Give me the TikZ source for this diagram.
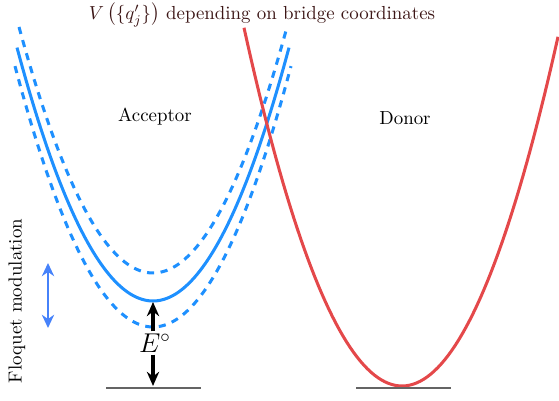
\documentclass[tikz,border=0pt]{standalone}
\usepackage{amsmath}
\usepackage{tikz}
\usetikzlibrary{arrows.meta,positioning}
\definecolor{accblue}{RGB}{30,144,255}
\definecolor{floqblue}{RGB}{70,130,250}
\definecolor{donred}{RGB}{228,72,74}
\definecolor{basegray}{RGB}{100,100,100}
\definecolor{titlebrown}{RGB}{60,22,22}
\tikzset{
  acccurve/.style={draw=accblue, line width=1.6pt},
  accdash/.style={draw=accblue, line width=1.6pt, dash pattern=on 3.8pt off 3.4pt},
  doncurve/.style={draw=donred, line width=1.6pt},
  baseline/.style={draw=basegray, line width=1.1pt},
  earrow/.style={line width=2pt, -{Stealth[length=7.5pt,width=6.5pt]}},
  farrow/.style={draw=floqblue, line width=1.4pt, {Stealth[length=7pt,width=6.5pt]}-{Stealth[length=7pt,width=6.5pt]}},
  lbl/.style={font=\normalsize, inner sep=1pt},
}
\begin{document}
\begin{tikzpicture}[x=0.0186cm, y=-0.0186cm]
\useasboundingbox (0,0) rectangle (559,401);
% title
\node[lbl, text=titlebrown] (title) at (262,15) {$V\left(\{q'_j\}\right)$ depending on bridge coordinates};

% acceptor parabola, shifted up and down by the modulation
\draw[accdash] plot[domain=-13.4:13.4, samples=90] ({153+10*\x},{273-1.37*\x*\x});
\draw[acccurve] plot[domain=-13.6:13.6, samples=90] ({153+10*\x},{301-1.37*\x*\x});
\draw[accdash] plot[domain=-13.8:13.8, samples=90] ({153+10*\x},{327-1.37*\x*\x});

% donor parabola
\draw[doncurve] plot[domain=-15.8:15.6, samples=90] ({402+10*\x},{386-1.435*\x*\x});

% baselines
\coordinate (accL) at (106,388);
\coordinate (accR) at (201,388);
\coordinate (donL) at (356,388);
\coordinate (donR) at (451,388);
\draw[baseline] (accL) -- (accR);
\draw[baseline] (donL) -- (donR);

\node[lbl] (acc) at (155,117) {Acceptor};
\node[lbl] (don) at (405,118) {Donor};

% driving force
\coordinate (accmin) at (153,302);
\coordinate (accbase) at (153,386);
\node[lbl, font=\Large] (E0) at (155,343) {$E^\circ$};
\draw[earrow] (E0.north -| accmin) -- (accmin);
\draw[earrow] (E0.south -| accbase) -- (accbase);

% Floquet modulation
\coordinate (ftop) at (48,263);
\coordinate (fbot) at (48,328);
\draw[farrow] (ftop) -- (fbot);
\node[lbl, rotate=90] (floq) at (17,301) {Floquet modulation};
\end{tikzpicture}
\end{document}
